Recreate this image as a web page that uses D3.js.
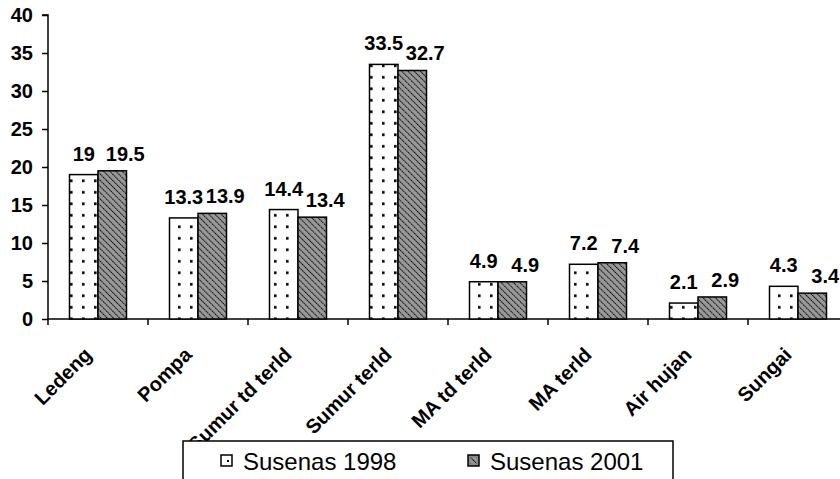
<!DOCTYPE html>
<html>
<head>
<meta charset="utf-8">
<script src="https://cdn.jsdelivr.net/npm/d3@7/dist/d3.min.js"></script>
<style>
  html, body { margin: 0; padding: 0; background: #fff; }
  svg { display: block; font-family: "Liberation Sans", Arial, sans-serif; }
  text { font-family: "Liberation Sans", Arial, sans-serif; }
</style>
</head>
<body>
<svg id="chart" width="840" height="479"></svg>
<script>
// Water source categories and percentage shares by survey year
const categories = ["Ledeng", "Pompa", "Sumur td terld", "Sumur terld", "MA td terld", "MA terld", "Air hujan", "Sungai"];
const susenas1998 = [19, 13.3, 14.4, 33.5, 4.9, 7.2, 2.1, 4.3];
const susenas2001 = [19.5, 13.9, 13.4, 32.7, 4.9, 7.4, 2.9, 3.4];
const seriesNames = ["Susenas 1998", "Susenas 2001"];
const yTicks = [0, 5, 10, 15, 20, 25, 30, 35, 40];

const svg = d3.select("#chart");

const x0 = 48, x1 = 848, yTop = 15, yBottom = 319;

const x = d3.scaleBand().domain(categories).range([x0, x1]).paddingInner(0).paddingOuter(0);
const y = d3.scaleLinear().domain([0, 40]).range([yBottom, yTop]);
const barW = 28.5;
const xSeries = d3.scaleBand().domain(seriesNames).range([-barW, barW]);

// Fill patterns: dotted white and hatched grey
const defs = svg.append("defs");
const pDot = defs.append("pattern").attr("id", "dots")
  .attr("patternUnits", "userSpaceOnUse").attr("width", 12).attr("height", 11.5)
  .attr("x", 5).attr("y", 3);
pDot.append("rect").attr("width", 12).attr("height", 11.5).attr("fill", "#fff");
pDot.append("rect").attr("x", 5).attr("y", 4).attr("width", 2.6).attr("height", 2.6).attr("fill", "#000");

const pHatch = defs.append("pattern").attr("id", "hatch")
  .attr("patternUnits", "userSpaceOnUse").attr("width", 4.4).attr("height", 4.4)
  .attr("patternTransform", "rotate(-45)");
pHatch.append("rect").attr("width", 4.4).attr("height", 4.4).attr("fill", "#999");
pHatch.append("line").attr("x1", 0).attr("y1", 0).attr("x2", 0).attr("y2", 4.4)
  .attr("stroke", "#000").attr("stroke-width", 2).attr("stroke-dasharray", "1.6,0.6");

const fills = ["url(#dots)", "url(#hatch)"];
const seriesData = [susenas1998, susenas2001];
// label placement per series: horizontal shift and gap above the bar
const labelDx = [0, 13];
const labelGap = [14, 10];

// Y axis
const yAxis = d3.axisLeft(y).tickValues(yTicks).tickSize(6).tickPadding(9);
const gy = svg.append("g").attr("transform", `translate(${x0},0)`).call(yAxis);
gy.attr("font-family", null);
gy.select(".domain").attr("stroke", "#000").attr("stroke-width", 1.5).attr("d", `M-6,${yTop}H0V${yBottom}`);
gy.selectAll(".tick line").attr("stroke", "#000").attr("stroke-width", 1.5);
gy.selectAll(".tick text").attr("fill", "#000").style("font-size", "20px").style("font-weight", "bold");

// X axis baseline with ticks at category boundaries
const gx = svg.append("g").attr("transform", `translate(0,${yBottom})`);
gx.append("line").attr("x1", x0).attr("x2", 840).attr("y1", 0).attr("y2", 0)
  .attr("stroke", "#000").attr("stroke-width", 1.5);
gx.selectAll("line.tick").data(categories).enter().append("line")
  .attr("class", "tick")
  .attr("x1", d => x(d)).attr("x2", d => x(d))
  .attr("y1", 0).attr("y2", 6)
  .attr("stroke", "#000").attr("stroke-width", 1.5);

// Bars and value labels
seriesNames.forEach((name, si) => {
  const g = svg.append("g");
  const vals = seriesData[si];
  g.selectAll("rect").data(categories).enter().append("rect")
    .attr("x", d => x(d) + x.bandwidth() / 2 + xSeries(name))
    .attr("y", (d, i) => y(vals[i]))
    .attr("width", xSeries.bandwidth())
    .attr("height", (d, i) => y(0) - y(vals[i]))
    .attr("fill", fills[si])
    .attr("stroke", "#000").attr("stroke-width", 1.5);
  g.selectAll("text").data(categories).enter().append("text")
    .attr("x", d => x(d) + x.bandwidth() / 2 + xSeries(name) + xSeries.bandwidth() / 2 + labelDx[si])
    .attr("y", (d, i) => y(vals[i]) - labelGap[si])
    .attr("text-anchor", "middle")
    .style("font-size", "20px").style("font-weight", "bold")
    .text((d, i) => vals[i]);
});

// Rotated category labels
svg.append("g").selectAll("text").data(categories).enter().append("text")
  .attr("transform", d => `translate(${x(d) + x.bandwidth() / 2 - 5},356) rotate(-45)`)
  .attr("text-anchor", "end")
  .style("font-size", "20px").style("font-weight", "bold")
  .text(d => d);

// Legend
const lg = svg.append("g");
lg.append("rect").attr("x", 183).attr("y", 441).attr("width", 490).attr("height", 60)
  .attr("fill", "#fff").attr("stroke", "#000").attr("stroke-width", 1.5);
const legendX = [221, 468];
seriesNames.forEach((name, si) => {
  lg.append("rect").attr("x", legendX[si]).attr("y", 455).attr("width", 11).attr("height", 11)
    .attr("fill", si === 0 ? "#fff" : "#888").attr("stroke", "#000").attr("stroke-width", 1.5);
  if (si === 0) {
    lg.append("rect").attr("x", legendX[si] + 6).attr("y", 460).attr("width", 2).attr("height", 2).attr("fill", "#000");
  } else {
    lg.append("rect").attr("x", legendX[si] + 2.5).attr("y", 457.5).attr("width", 6).attr("height", 6).attr("fill", "url(#hatch)");
  }
  lg.append("text").attr("x", legendX[si] + 22).attr("y", 470)
    .style("font-size", "24px").text(name);
});
</script>
</body>
</html>
